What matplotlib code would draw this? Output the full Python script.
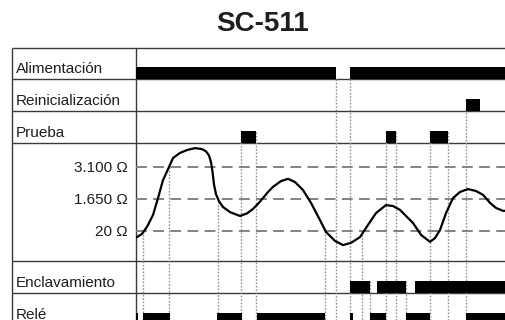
import matplotlib
matplotlib.use("Agg")
from matplotlib import pyplot as plt

plt.rcParams['font.family'] = ['Liberation Sans', 'DejaVu Sans']

W, H = 506, 320

# 행 이름
row_names = ["Alimentación", "Reinicialización", "Prueba", "", "Enclavamiento", "Relé"]

# 디지털 신호 (시작, 끝) - 시간 단위
alimentacion = [(136, 336), (350, 506)]
reinicializacion = [(466, 480)]
prueba = [(241, 256), (386, 396), (430, 448)]
enclavamiento = [(350, 370), (377, 406), (415, 506)]
rele = [(136, 138), (143, 170), (217, 242), (257, 325), (350, 353),
        (370, 386), (406, 430), (466, 506)]

# 저항 곡선 (시간, 레벨) : 1 = 20Ω, 2 = 1.650Ω, 3 = 3.100Ω
curve_t = [136, 137, 142, 147, 153, 158, 163, 169, 173, 180, 187, 195, 202,
           206, 209, 211, 212.5, 214, 216, 219, 223, 230, 240, 247, 253, 258,
           263, 268, 273, 281, 288, 295, 303, 311, 320, 326, 335, 343, 351,
           360, 368, 376, 386, 393, 400, 406, 413, 421, 430, 435, 440, 446,
           453, 460, 468, 476, 483, 490, 496, 503, 506]
curve_v = [0.80, 0.81, 0.91, 1.13, 1.50, 2.03, 2.59, 3.00, 3.28, 3.44, 3.53,
           3.59, 3.56, 3.49, 3.36, 3.15, 2.85, 2.45, 2.15, 1.93, 1.75, 1.59,
           1.47, 1.55, 1.69, 1.85, 2.03, 2.22, 2.38, 2.56, 2.63, 2.53, 2.28,
           1.88, 1.34, 0.97, 0.69, 0.56, 0.63, 0.81, 1.19, 1.56, 1.81, 1.78,
           1.66, 1.47, 1.25, 0.88, 0.66, 0.78, 1.03, 1.56, 2.03, 2.22, 2.31,
           2.25, 2.13, 1.88, 1.72, 1.63, 1.63]
level_ticks = [1, 2, 3]
level_labels = ["20 Ω", "1.650 Ω", "3.100 Ω"]

# 점선 이벤트 (시간, 시작 높이 px)
events_t = [143, 169, 218, 241, 256, 325, 336, 350, 362, 370, 386, 396, 406,
            430, 448, 466]
events_top = [231, 167, 198, 132, 132, 231, 79, 79, 231, 281, 132, 132, 281,
              132, 132, 99]

# 행 경계 (px)
row_lines = [48, 79, 111, 143, 261, 293, 325]
label_x, col_x = 12, 136
line_col = "#3a3a3a"
text_col = "#1e1e1e"


def px_rect(x0, y0, x1, y1):
    return [x0 / W, 1 - y1 / H, (x1 - x0) / W, (y1 - y0) / H]


fig = plt.figure(figsize=(W / 100, H / 100), dpi=100)

# 표 테두리
frame = fig.add_axes([0, 0, 1, 1])
frame.set_xlim(0, W)
frame.set_ylim(H, 0)
frame.axis('off')
frame.hlines(row_lines[:-1], label_x, W, color=line_col, lw=1)
frame.vlines([label_x, col_x], row_lines[0], H, color=line_col, lw=1)
for i, name in enumerate(row_names):
    if name:
        frame.text(label_x + 4, row_lines[i + 1] - 6, name, fontsize=11,
                   color=text_col, ha='left', va='baseline')

fig.text(262 / W, 1 - 24 / H, "SC-511", fontsize=20, fontweight='bold',
         ha='center', va='center', color=text_col)

# 점선
over = fig.add_axes(px_rect(col_x, 48, W, H))
over.set_xlim(col_x, W)
over.set_ylim(H, 48)
over.axis('off')
over.vlines(events_t, events_top, H, colors="#909090", lw=1,
            linestyles=(0, (1.2, 1.2)))

# 디지털 신호
signals = [alimentacion, reinicializacion, prueba, None, enclavamiento, rele]
for i, sig in enumerate(signals):
    if sig is None:
        continue
    ax = fig.add_axes(px_rect(col_x, row_lines[i], W, row_lines[i + 1]))
    ax.set_xlim(col_x, W)
    ax.set_ylim(0, 1)
    ax.axis('off')
    ax.broken_barh([(a, b - a) for a, b in sig], (0, 0.38), facecolors='black')

# 저항 곡선
cax = fig.add_axes(px_rect(col_x, row_lines[3], W, row_lines[4]))
cax.set_facecolor('none')
cax.set_xlim(col_x, W)
cax.set_ylim(1 - 30 / 32, 1 + 88 / 32)
for s in cax.spines.values():
    s.set_visible(False)
cax.set_xticks([])
cax.set_yticks(level_ticks)
cax.set_yticklabels(level_labels, fontsize=11, color=text_col)
cax.tick_params(axis='y', length=0, pad=6)
cax.yaxis.grid(True, ls=(0, (6, 3.5)), color="#7a7a7a", lw=1.3)
cax.plot(curve_t, curve_v, color='black', lw=1.6, solid_joinstyle='round',
         solid_capstyle='round')

fig.savefig('out.png', dpi=100)
